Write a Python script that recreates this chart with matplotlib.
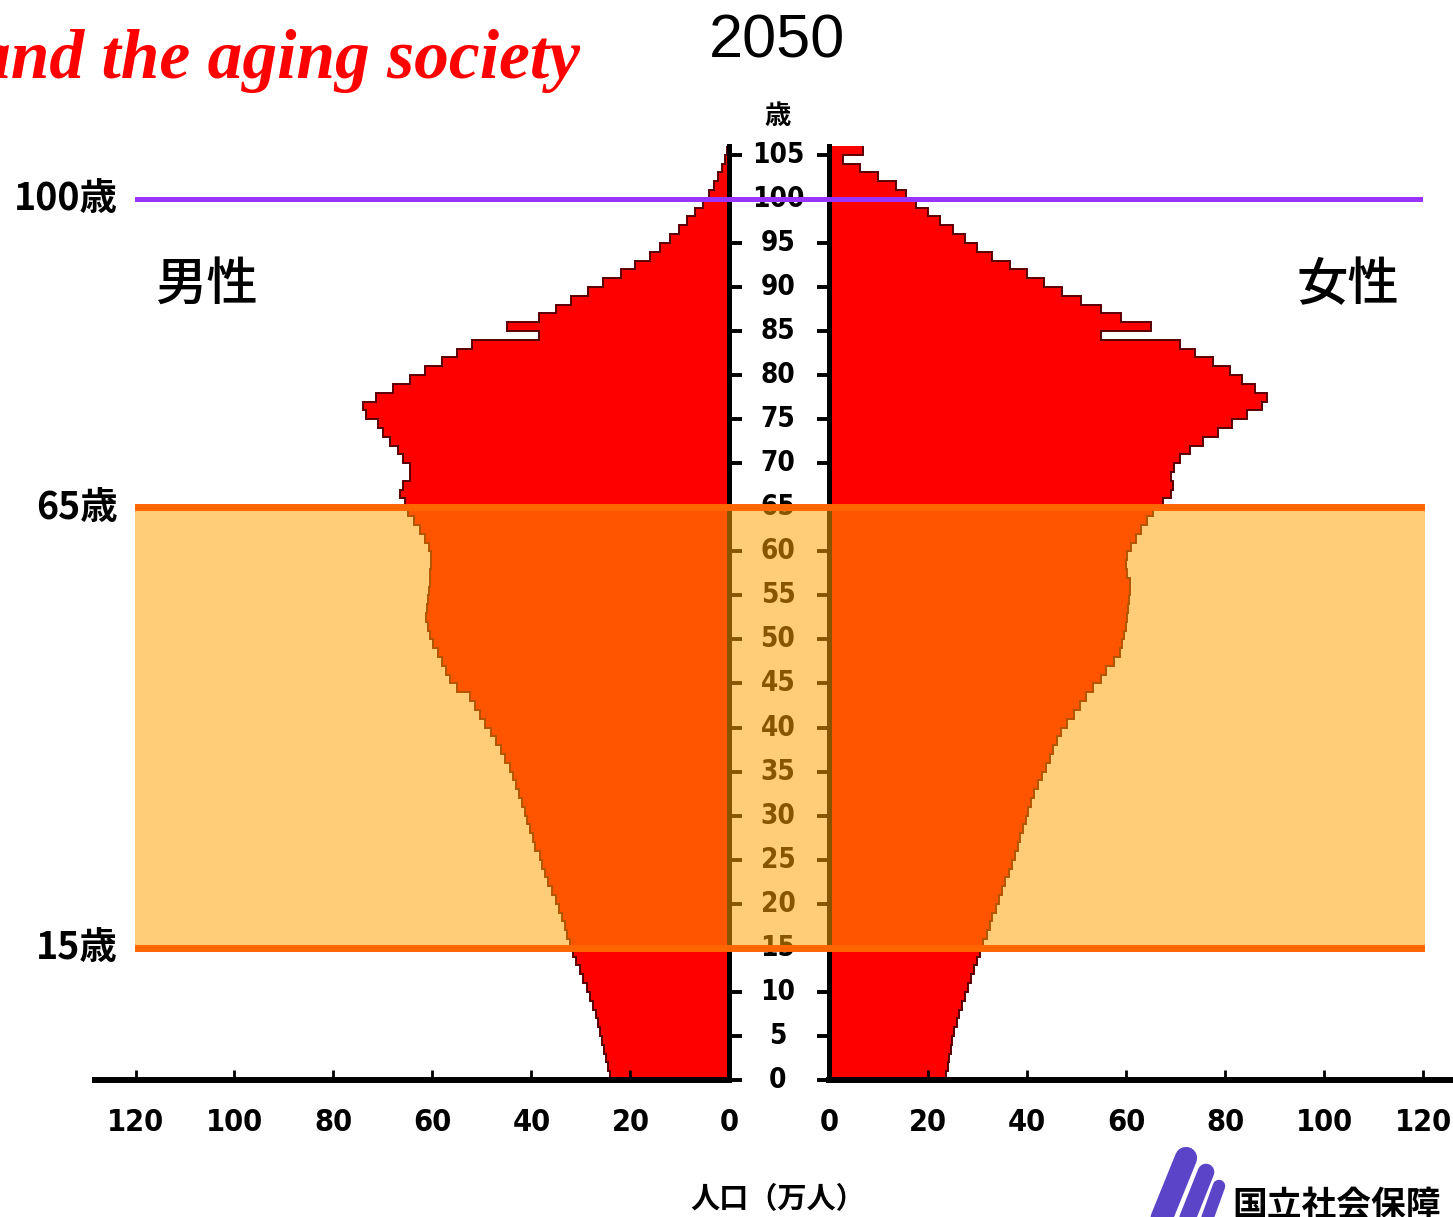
import numpy as np
import matplotlib.pyplot as plt
from matplotlib.lines import Line2D
from matplotlib.transforms import blended_transform_factory

plt.rcParams['font.family'] = ['Noto Sans CJK JP', 'DejaVu Sans']

W, H, DPI = 1453, 1217, 100

# population by single year of age (0 .. 105+), unit: 10 000 persons
ages = np.arange(0, 106)
male = [24.2, 24.5, 24.9, 25.3, 25.8, 26.2, 26.6, 27.0, 27.6, 28.2,
        28.8, 29.6, 30.3, 31.0, 31.7, 32.3, 32.8, 33.3, 33.8, 34.4,
        35.1, 35.8, 36.6, 37.2, 37.8, 38.3, 39.2, 39.7, 40.3, 40.9,
        41.4, 42.0, 42.6, 43.2, 43.8, 44.4, 45.3, 46.2, 47.1, 48.2,
        49.3, 50.4, 51.5, 52.5, 55.0, 56.5, 57.3, 58.0, 58.9, 59.8,
        60.5, 61.0, 61.3, 61.2, 60.9, 60.7, 60.6, 60.5, 60.3, 60.3,
        60.8, 61.5, 62.5, 63.8, 65.0, 65.5, 66.5, 66.0, 64.5, 64.5,
        66.0, 67.0, 68.5, 70.0, 71.0, 73.5, 74.0, 71.5, 68.0, 64.5,
        61.5, 58.0, 55.0, 52.0, 38.5, 45.0, 38.5, 35.0, 32.0, 28.5,
        25.5, 22.0, 19.0, 16.0, 14.0, 12.0, 10.3, 8.5, 7.0, 5.3,
        4.2, 3.2, 2.3, 1.5, 0.9, 0.5]
female = [23.7, 24.0, 24.3, 24.6, 24.9, 25.3, 25.8, 26.3, 26.8, 27.4,
          28.0, 28.6, 29.2, 29.9, 30.5, 31.2, 31.9, 32.5, 33.0, 33.7,
          34.3, 35.0, 35.6, 36.3, 36.9, 37.6, 38.1, 38.6, 39.1, 39.7,
          40.3, 40.9, 41.5, 42.2, 43.0, 43.8, 44.6, 45.3, 46.0, 46.8,
          48.0, 49.4, 50.7, 52.0, 53.4, 55.0, 56.0, 57.5, 58.8, 59.2,
          59.6, 60.0, 60.2, 60.4, 60.6, 60.8, 60.8, 60.3, 60.0, 60.2,
          61.0, 62.0, 63.0, 64.2, 65.5, 67.5, 69.0, 69.5, 69.0, 69.7,
          71.0, 73.0, 75.5, 78.5, 81.5, 84.5, 87.5, 88.5, 86.0, 83.5,
          81.0, 77.5, 74.0, 71.0, 55.0, 65.0, 59.0, 55.0, 51.0, 47.0,
          43.5, 40.0, 36.5, 33.0, 30.0, 27.5, 25.0, 22.5, 20.0, 17.5,
          15.5, 13.5, 10.0, 6.3, 2.8, 6.8]

age_ticks = list(range(0, 106, 5))
faint_ticks = [55, 65, 75, 85]
pop_ticks = [0, 20, 40, 60, 80, 100, 120]
guide_ages = [100, 65, 15]
guide_labels = ['100歳', '65歳', '15歳']
guide_colors = ['#9933ff', '#ff6600', '#ff6600']
band = (15, 65)

PX_PER_UNIT = 4.95


def box(x0, x1, y0, y1):
    # pixel box (left, right, top, bottom) -> figure fraction rect
    return [x0 / W, 1 - y1 / H, (x1 - x0) / W, (y1 - y0) / H]


fig = plt.figure(figsize=(W / DPI, H / DPI), dpi=DPI)

ax_m = fig.add_axes(box(95, 729.5, 146, 1080))
ax_f = fig.add_axes(box(829, 1453, 146, 1080))
ax_m.set_xlim(634.5 / PX_PER_UNIT, 0)
ax_f.set_xlim(0, 624 / PX_PER_UNIT)

edges = np.arange(0, 107)
for ax, vals in [(ax_m, male), (ax_f, female)]:
    ax.set_ylim(0, 106)
    ax.barh(ages, vals, height=1, align='edge', color='#ff0000', lw=0)
    ax.stairs(vals, edges, orientation='horizontal', baseline=None,
              color='#5a0000', lw=1.4)
    ax.set_facecolor('none')
    ax.spines['top'].set_visible(False)
    ax.spines['bottom'].set_linewidth(4.3)
    ax.set_yticks(age_ticks)
    ax.set_xticks(pop_ticks)
    ax.set_xticklabels([str(v) for v in pop_ticks], fontsize=22,
                       fontweight='bold', family='DejaVu Sans',
                       fontstretch='condensed')
    ax.tick_params(axis='x', direction='in', length=7, width=2, pad=20)

ax_m.spines['left'].set_visible(False)
ax_m.spines['right'].set_linewidth(3.6)
ax_m.yaxis.tick_right()
ax_m.tick_params(axis='y', direction='out', length=9, width=2.8,
                 labelright=False)
ax_f.spines['right'].set_visible(False)
ax_f.spines['left'].set_linewidth(3.6)
ax_f.tick_params(axis='y', direction='out', length=9, width=2.8,
                 labelleft=False)

for t in ax_m.yaxis.get_major_ticks():
    if t.get_loc() in faint_ticks:
        t.tick2line.set_color('#bbbbbb')
for t in ax_f.yaxis.get_major_ticks():
    if t.get_loc() in faint_ticks:
        t.tick1line.set_color('#bbbbbb')

# age numbers in the centre column
tr = blended_transform_factory(ax_m.transAxes, ax_m.transData)
x_mid = (778 - 95) / 634.5
for a in age_ticks:
    ax_m.text(x_mid, a, str(a), transform=tr, ha='center', va='center',
              fontsize=20, fontweight='bold', family='DejaVu Sans',
              fontstretch='condensed', clip_on=False)

# working-age band and guide lines
ax_o = fig.add_axes(box(135, 1425, 146, 1080))
ax_o.set_xlim(0, 1)
ax_o.set_ylim(0, 106)
ax_o.axis('off')
ax_o.axhspan(band[0], band[1], color=(1.0, 0.63, 0.0), alpha=0.53, lw=0)
tr_o = blended_transform_factory(ax_o.transAxes, ax_o.transData)
for a, lab, c in zip(guide_ages, guide_labels, guide_colors):
    lw = 3.6 if a == 100 else 5
    ax_o.axhline(a, color=c, lw=lw, xmax=0.996 if a == 100 else 1)
    ax_o.text(-0.013, a, lab, transform=tr_o, ha='right', va='center',
              fontsize=27, fontweight='bold', clip_on=False)

# texts
fig.text(778 / W, 1 - 116 / H, '歳', ha='center', va='center',
         fontsize=19, fontweight='bold')
fig.text(206 / W, 1 - 285 / H, '男性', ha='center', va='center',
         fontsize=37, fontweight='medium')
fig.text(1348 / W, 1 - 285 / H, '女性', ha='center', va='center',
         fontsize=37, fontweight='medium')
fig.text(777 / W, 1 - 58 / H, '2050', ha='center', va='baseline',
         fontsize=44, family='Liberation Sans')
fig.text(580 / W, 1 - 78 / H, 'and the aging society', ha='right',
         va='baseline', fontsize=50, family='Liberation Serif',
         style='italic', fontweight='bold', color='#ff0000')
fig.text(778 / W, 1 - 1184 / H, '人口（万人）', ha='center', va='top',
         fontsize=21, fontweight='bold')

# institute logo (bottom right, cut by the edge)
for (x0, y0, x1, y1, w) in [(1186, 1158, 1160, 1222, 16),
                            (1206, 1172, 1186, 1222, 12),
                            (1219, 1186, 1206, 1222, 9)]:
    fig.add_artist(Line2D([x0 / W, x1 / W], [1 - y0 / H, 1 - y1 / H],
                          transform=fig.transFigure, color='#5b44c8',
                          lw=w, solid_capstyle='round'))
fig.text(1232 / W, 1 - 1188 / H, '国立社会保障・', ha='left', va='top',
         fontsize=25, fontweight='bold')

fig.savefig('out.png', dpi=DPI)
